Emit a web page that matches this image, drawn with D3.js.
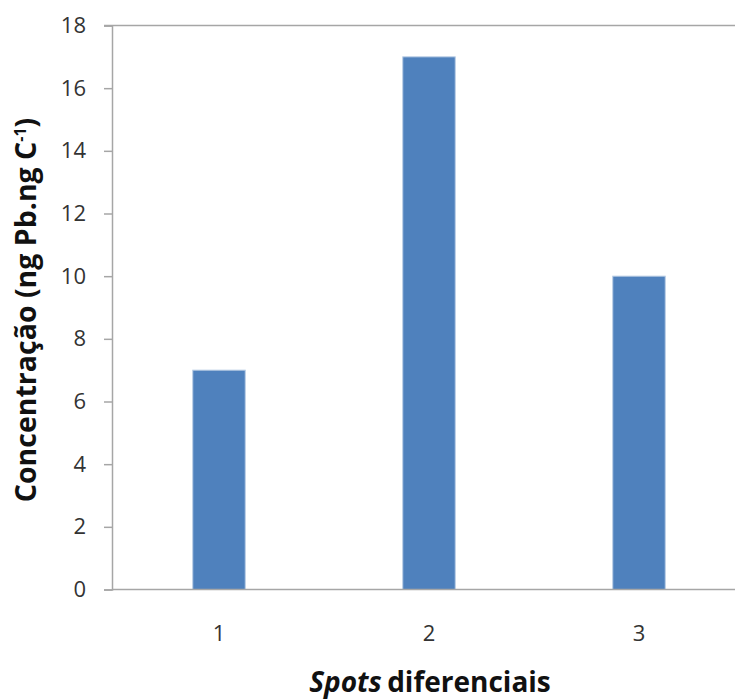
<!DOCTYPE html>
<html>
<head>
<meta charset="utf-8">
<script src="https://cdn.jsdelivr.net/npm/d3@7"></script>
<style>
  html, body { margin: 0; padding: 0; background: #fff; }
  svg { display: block; font-family: "Open Sans", "Noto Sans", sans-serif; }
</style>
</head>
<body>
<svg id="chart" width="735" height="699"></svg>
<script>
// Lead concentration per differential spot
const categories = ["1", "2", "3"];
const values = [7, 17, 10];
const yTicks = [0, 2, 4, 6, 8, 10, 12, 14, 16, 18];

const svg = d3.select("#chart");
const plotLeft = 112, plotRight = 742, plotTop = 25.5, plotBottom = 589.5;

const x = d3.scaleBand()
  .domain(categories)
  .range([plotLeft, plotRight])
  .paddingInner(0.75)
  .paddingOuter(0.375);

const y = d3.scaleLinear().domain([0, 18]).range([plotBottom, plotTop]);

const axisColor = "#a6a6a6";
const textColor = "#333";
const tickFont = "22px";

// top line at maximum
svg.append("line")
  .attr("x1", plotLeft - 8).attr("x2", 735)
  .attr("y1", y(18)).attr("y2", y(18))
  .attr("stroke", axisColor).attr("stroke-width", 1.5);

// bars
svg.selectAll("rect.bar")
  .data(values)
  .join("rect")
  .attr("class", "bar")
  .attr("x", (d, i) => x(categories[i]) + 2)
  .attr("width", x.bandwidth())
  .attr("y", d => y(d))
  .attr("height", d => plotBottom - y(d))
  .attr("fill", "#4f81bd")
  .attr("stroke", "#b9cde5")
  .attr("stroke-width", 1);

// y axis
const yAxis = svg.append("g")
  .attr("transform", `translate(${plotLeft},0)`)
  .call(d3.axisLeft(y).tickValues(yTicks).tickSize(8).tickPadding(18));
yAxis.attr("font-size", null).attr("font-family", null);
yAxis.select(".domain").attr("stroke", axisColor).attr("stroke-width", 1.5);
yAxis.selectAll(".tick line").attr("stroke", axisColor).attr("stroke-width", 1.5);
yAxis.selectAll(".tick text")
  .attr("fill", textColor)
  .style("font-size", tickFont);

// x axis
const xAxis = svg.append("g")
  .attr("transform", `translate(0,${plotBottom})`)
  .call(d3.axisBottom(x).tickSize(0).tickPadding(36).tickSizeOuter(0));
xAxis.attr("font-size", null).attr("font-family", null);
xAxis.select(".domain")
  .attr("d", `M${plotLeft},0H735`)
  .attr("stroke", axisColor).attr("stroke-width", 1.5);
xAxis.selectAll(".tick")
  .attr("transform", d => `translate(${x(d) + x.bandwidth() / 2 + 2},0)`);
xAxis.selectAll(".tick text")
  .attr("fill", textColor)
  .style("font-size", tickFont);

// x title
const xt = svg.append("text")
  .attr("x", 430).attr("y", 692)
  .attr("text-anchor", "middle")
  .attr("fill", "#111")
  .style("font-size", "28px")
  .style("font-weight", "bold");
xt.append("tspan").style("font-style", "italic").text("Spots");
xt.append("tspan").attr("dx", -2).text(" diferenciais");

// y title
const yt = svg.append("text")
  .attr("transform", "translate(36,310) rotate(-90)")
  .attr("text-anchor", "middle")
  .attr("fill", "#111")
  .style("font-size", "28.5px")
  .style("font-weight", "bold");
yt.append("tspan").text("Concentração (ng Pb.ng C");
yt.append("tspan").attr("dy", -10).style("font-size", "16px").text("-1");
yt.append("tspan").attr("dy", 10).text(")");
</script>
</body>
</html>
